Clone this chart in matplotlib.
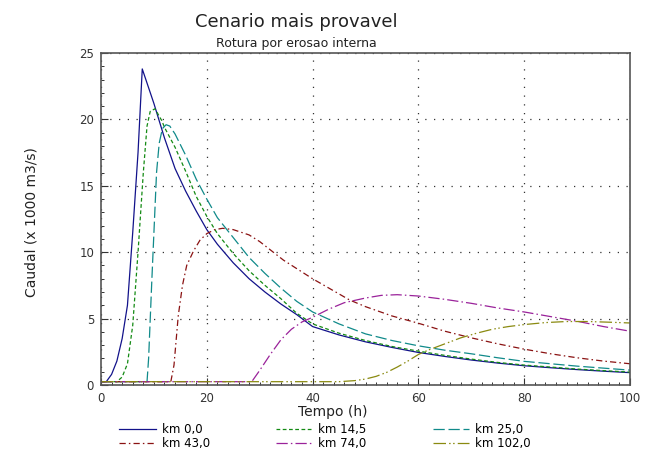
import matplotlib
matplotlib.use("Agg")
import matplotlib.pyplot as plt
from matplotlib.ticker import MultipleLocator

# ---------------- data ----------------
t_km0 = [0, 1, 2, 3, 4, 5, 6, 7, 7.8, 10, 12, 14, 16, 18, 20, 22, 25, 28, 31, 34, 37, 40,
         45, 50, 55, 60, 65, 70, 75, 80, 85, 90, 95, 100]
q_km0 = [0.25, 0.25, 0.8, 1.8, 3.5, 6.0, 11.5, 17.5, 23.8, 21.2, 18.6, 16.3, 14.6, 13.1, 11.7,
         10.6, 9.2, 8.0, 7.0, 6.1, 5.3, 4.4, 3.77, 3.25, 2.83, 2.45, 2.15, 1.88, 1.65, 1.45,
         1.3, 1.16, 1.04, 0.93]

t_km14 = [0, 3, 4, 5, 6, 7, 8, 8.7, 9.3, 10.2, 11.5, 12, 14, 16, 18, 20, 22, 25, 28, 31, 34,
          37, 40, 45, 50, 55, 60, 65, 70, 75, 80, 85, 90, 95, 100]
q_km14 = [0.25, 0.25, 0.6, 1.6, 4.5, 10.0, 16.0, 19.5, 20.6, 20.8, 19.9, 19.4, 17.9, 16.1,
          14.2, 12.7, 11.4, 9.9, 8.6, 7.5, 6.5, 5.4, 4.6, 3.9, 3.35, 2.9, 2.55, 2.23, 1.95,
          1.7, 1.5, 1.35, 1.2, 1.08, 0.97]

t_km25 = [0, 8.7, 9.0, 9.6, 10.5, 11.0, 11.6, 12.3, 13, 14, 16, 18, 20, 22, 25, 28, 31, 34,
          37, 40, 45, 50, 55, 60, 65, 70, 75, 80, 85, 90, 95, 100]
q_km25 = [0.25, 0.25, 2.0, 7.8, 16.0, 18.2, 19.3, 19.6, 19.5, 18.9, 17.3, 15.5, 14.0, 12.6,
          11.1, 9.6, 8.4, 7.3, 6.3, 5.5, 4.6, 3.85, 3.35, 2.95, 2.62, 2.35, 2.05, 1.78, 1.6,
          1.42, 1.27, 1.12]

t_km43 = [0, 13.2, 13.8, 14.6, 15.4, 16.2, 17.5, 18.7, 20, 21.5, 23, 25, 28, 30, 34.5, 40, 47,
          50, 55, 60, 65, 70, 75, 80, 85, 90, 95, 100]
q_km43 = [0.25, 0.25, 1.5, 5.2, 7.5, 9.0, 10.1, 10.9, 11.4, 11.7, 11.8, 11.7, 11.3, 10.8, 9.4,
          8.0, 6.4, 5.9, 5.2, 4.65, 4.05, 3.55, 3.1, 2.7, 2.35, 2.05, 1.8, 1.6]

t_km74 = [0, 28.5, 30, 32, 34, 36, 38, 40, 43, 46, 50, 53, 56, 60, 65, 70, 75, 80, 85, 90, 95, 100]
q_km74 = [0.25, 0.25, 1.1, 2.3, 3.4, 4.2, 4.75, 5.1, 5.7, 6.2, 6.55, 6.75, 6.8, 6.7, 6.45, 6.15,
          5.8, 5.5, 5.15, 4.8, 4.4, 4.05]

t_km102 = [0, 45, 48, 50, 52, 54, 56, 58, 60, 62, 65, 68, 71, 74, 77, 80, 84, 88, 92, 96, 100]
q_km102 = [0.25, 0.25, 0.33, 0.45, 0.65, 0.95, 1.35, 1.8, 2.3, 2.65, 3.1, 3.55, 3.9, 4.2, 4.4,
           4.55, 4.7, 4.78, 4.78, 4.73, 4.67]

labels = ["km 0,0", "km 14,5", "km 25,0", "km 43,0", "km 74,0", "km 102,0"]
x_ticks = [0, 20, 40, 60, 80, 100]
y_ticks = [0, 5, 10, 15, 20, 25]

series = [(t_km0, q_km0), (t_km14, q_km14), (t_km25, q_km25),
          (t_km43, q_km43), (t_km74, q_km74), (t_km102, q_km102)]
colors = ["#12128a", "#138a13", "#108a8a", "#8a1212", "#9a229a", "#8a8a10"]
styles = ["-", (0, (3, 2)), (0, (9, 3)), (0, (5, 2.5, 1.2, 2.5)),
          (0, (9, 2.5, 1.2, 2.5)), (0, (10, 2.5, 1.2, 2, 1.2, 2.5))]

# ---------------- figure ----------------
fig = plt.figure(figsize=(6.46, 4.74), dpi=100)
fig.patch.set_facecolor("white")
ax = fig.add_axes([101 / 646, 1 - 385 / 474, (630 - 101) / 646, (385 - 53) / 474])

handles = []
for (t, q), c, ls, lab in zip(series, colors, styles, labels):
    h, = ax.plot(t, q, color=c, lw=0.9, linestyle=ls, label=lab)
    handles.append(h)

ax.set_xlim(0, 100)
ax.set_ylim(0, 25)
ax.set_xticks(x_ticks)
ax.set_yticks(y_ticks)
ax.xaxis.set_minor_locator(MultipleLocator(2))
ax.yaxis.set_minor_locator(MultipleLocator(1))
ax.tick_params(which="major", direction="in", length=5, width=0.8, labelsize=8.5,
               top=False, right=False, colors="#333333", pad=5)
ax.tick_params(which="minor", direction="in", length=2.5, width=0.7,
               top=False, right=False, colors="#333333")
for s in ax.spines.values():
    s.set_color("#555555")
    s.set_linewidth(1.2)

# dotted grid at inner major ticks
ax.grid(True, which="major", color="#333333", linestyle=(0, (1, 6)), linewidth=0.9)

fig.text(296 / 646, 1 - 22 / 474, "Cenario mais provavel", ha="center", va="center",
         fontsize=13, color="#222222")
fig.text(296 / 646, 1 - 44 / 474, "Rotura por erosao interna", ha="center", va="center",
         fontsize=9, color="#222222")
fig.text(333 / 646, 1 - 412 / 474, "Tempo (h)", ha="center", va="center",
         fontsize=10, color="#222222")
fig.text(32 / 646, 1 - 222 / 474, "Caudal (x 1000 m3/s)", ha="center", va="center",
         rotation=90, fontsize=10, color="#222222")

# legend: rows km0/km14.5/km25 and km43/km74/km102 (column-major order)
order = [0, 3, 1, 4, 2, 5]
fig.legend([handles[i] for i in order], [labels[i] for i in order],
           ncol=3, loc="upper left", bbox_to_anchor=(112 / 646, 1 - 416 / 474),
           frameon=False, fontsize=8.5, handlelength=3.1, handletextpad=0.5,
           columnspacing=5.6, labelspacing=0.05, borderpad=0.1)

fig.savefig("out.png", dpi=100)
